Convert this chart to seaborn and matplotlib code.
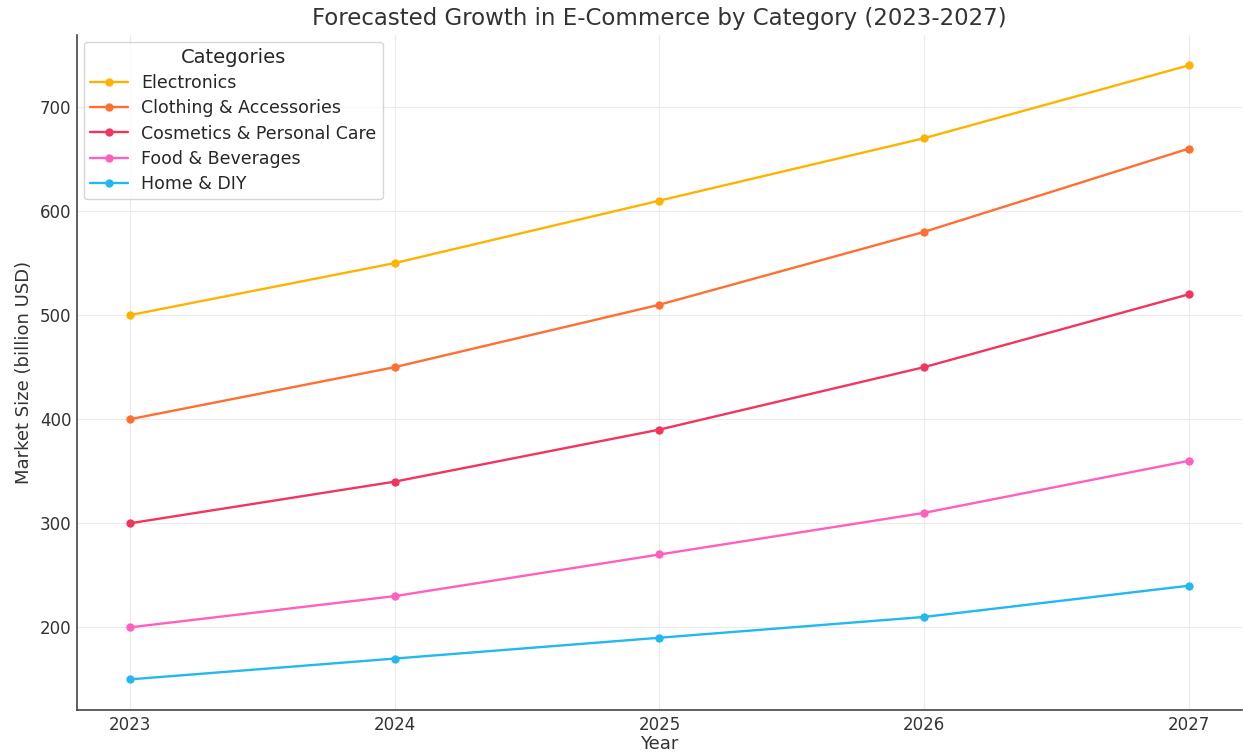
import matplotlib
matplotlib.use("Agg")
import matplotlib.pyplot as plt
import seaborn as sns
import pandas as pd

years = [2023, 2024, 2025, 2026, 2027]
electronics = [500, 550, 610, 670, 740]
clothing = [400, 450, 510, 580, 660]
cosmetics = [300, 340, 390, 450, 520]
food = [200, 230, 270, 310, 360]
home = [150, 170, 190, 210, 240]

categories = ["Electronics", "Clothing & Accessories", "Cosmetics & Personal Care",
              "Food & Beverages", "Home & DIY"]
series = [electronics, clothing, cosmetics, food, home]
colors = ["#FFB300", "#FF6F30", "#F2355F", "#FF5FBF", "#22B8F0"]

rows = []
for cat, vals in zip(categories, series):
    for y, v in zip(years, vals):
        rows.append({"Year": y, "Market Size": v, "Category": cat})
df = pd.DataFrame(rows)

sns.set_theme(style="whitegrid")
plt.rcParams["font.family"] = ["DejaVu Sans"]

fig = plt.figure(figsize=(12.43, 7.53), dpi=100)
ax = fig.add_axes([0.062, 0.057, 0.937, 0.897])

sns.lineplot(data=df, x="Year", y="Market Size", hue="Category",
             hue_order=categories, palette=colors, marker="o",
             markersize=6, markeredgewidth=0, linewidth=1.7, ax=ax)

ax.set_xticks(years)
ax.set_xticklabels([str(y) for y in years])
ax.margins(x=0.05, y=0.05)
ax.set_title("Forecasted Growth in E-Commerce by Category (2023-2027)",
             fontsize=16.5, color="#333333", pad=7)
ax.set_xlabel("Year", fontsize=13, color="#333333", labelpad=1)
ax.set_ylabel("Market Size (billion USD)", fontsize=13, color="#333333", labelpad=5)
ax.tick_params(axis="both", labelsize=12, colors="#333333", length=0, pad=4)
ax.grid(True, color="#ebebeb", linewidth=0.8)
for side in ["top", "right"]:
    ax.spines[side].set_visible(False)
for side in ["left", "bottom"]:
    ax.spines[side].set_visible(True)
    ax.spines[side].set_color("#444444")
    ax.spines[side].set_linewidth(1.2)
ax.set_facecolor("white")

leg = ax.legend(title="Categories", loc="upper left", fontsize=12.5,
                title_fontsize=14, frameon=True, borderaxespad=0.4,
                borderpad=0.35, handlelength=2.2, handletextpad=0.75,
                labelspacing=0.42)
leg.get_frame().set_edgecolor("#cccccc")

fig.savefig("out.png", dpi=100, facecolor="white")
